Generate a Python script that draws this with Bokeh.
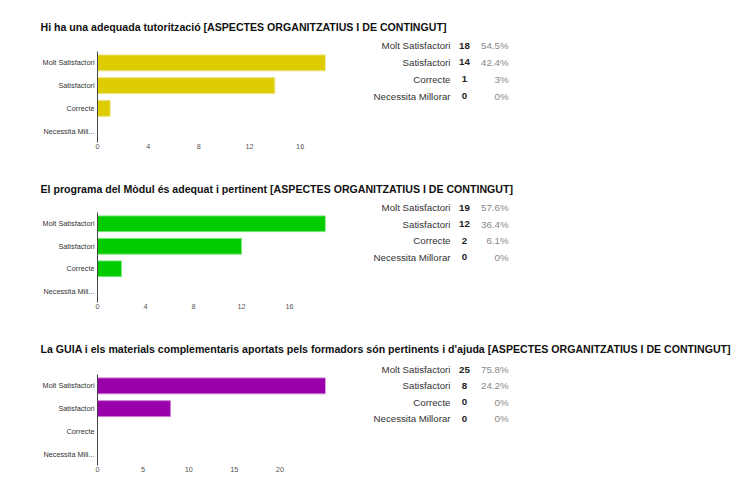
from bokeh.plotting import figure
from bokeh.models import Range1d, FixedTicker, ColumnDataSource
from bokeh.layouts import column, row
from bokeh.core.properties import value
from bokeh.embed import file_html
from bokeh.resources import INLINE

# ---------------- data ----------------
categories = ["Molt Satisfactori", "Satisfactori", "Correcte", "Necessita Millorar"]
category_ticklabels = ["Molt Satisfactori", "Satisfactori", "Correcte", "Necessita Mill..."]

title_1 = "Hi ha una adequada tutorització [ASPECTES ORGANITZATIUS I DE CONTINGUT]"
title_2 = "El programa del Mòdul és adequat i pertinent [ASPECTES ORGANITZATIUS I DE CONTINGUT]"
title_3 = ("La GUIA  i els materials complementaris aportats pels formadors són pertinents "
           "i d'ajuda [ASPECTES ORGANITZATIUS I DE CONTINGUT]")

counts_1 = [18, 14, 1, 0]
counts_2 = [19, 12, 2, 0]
counts_3 = [25, 8, 0, 0]

percents_1 = ["54.5%", "42.4%", "3%", "0%"]
percents_2 = ["57.6%", "36.4%", "6.1%", "0%"]
percents_3 = ["75.8%", "24.2%", "0%", "0%"]

ticks_1 = [0, 4, 8, 12, 16]
ticks_2 = [0, 4, 8, 12, 16]
ticks_3 = [0, 5, 10, 15, 20]

colors = ["#DDCC00", "#00CC00", "#9900AA"]
edge_colors = ["#EEE57F", "#7FE57F", "#CC7FD4"]

FONT = "Liberation Sans"
PAGE_W = 736
BAR_FIG_W = 340
TITLE_H = 36


def bare_figure(width, height, x_range, y_range):
    f = figure(width=width, height=height, x_range=x_range, y_range=y_range,
               output_backend="svg", toolbar_location=None, tools="",
               x_axis_location=None, y_axis_location=None,
               min_border_left=0, min_border_right=0, min_border_top=0, min_border_bottom=0)
    f.outline_line_color = None
    f.grid.visible = False
    return f


def make_block(title, counts, percents, ticks, color, edge,
               block_h, title_y, frame_top, bars_top, frame_bottom, table_y0, table_dy):
    """All layout positions are in pixels measured from the top of the block."""
    n = len(categories)
    row_h = block_h - TITLE_H
    frame_h = frame_bottom - frame_top
    bars_h = frame_bottom - bars_top

    # ---- title strip ----
    t = bare_figure(PAGE_W, TITLE_H, Range1d(0, PAGE_W), Range1d(TITLE_H, 0))
    t.text(x=[40], y=[title_y], text=[title], text_font=value(FONT),
           text_font_size="10.6px", text_font_style="bold", text_color="#111111",
           text_baseline="middle", text_align="left")

    # ---- bar chart (numeric y: top category at n-1) ----
    frame_left = 97
    frame_w = 228
    ypos = [n - 1 - i for i in range(n)]
    y_top = -0.5 + n * frame_h / bars_h
    p = figure(
        width=BAR_FIG_W, height=row_h,
        y_range=Range1d(-0.5, y_top),
        x_range=Range1d(0, max(counts)),
        output_backend="svg", toolbar_location=None, tools="",
        min_border_left=frame_left, min_border_right=BAR_FIG_W - frame_left - frame_w,
        min_border_top=frame_top - TITLE_H, min_border_bottom=block_h - frame_bottom,
    )
    p.hbar(y=ypos, left=0, right=counts, height=0.7,
           fill_color=color, line_color=edge, line_width=1)
    p.outline_line_color = None
    p.xgrid.visible = False
    p.ygrid.visible = False

    xa = p.xaxis[0]
    xa.ticker = FixedTicker(ticks=ticks)
    xa.axis_line_color = None
    xa.major_tick_line_color = None
    xa.minor_tick_line_color = None
    xa.major_tick_out = 0
    xa.major_tick_in = 0
    xa.major_label_standoff = 1
    xa.major_label_text_font = FONT
    xa.major_label_text_font_size = "7.3px"
    xa.major_label_text_color = "#555555"

    ya = p.yaxis[0]
    ya.ticker = FixedTicker(ticks=ypos)
    ya.major_label_overrides = {y: lab for y, lab in zip(ypos, category_ticklabels)}
    ya.bounds = (-0.5, n - 0.5)
    ya.axis_line_color = "#444444"
    ya.axis_line_width = 1
    ya.major_tick_line_color = None
    ya.minor_tick_line_color = None
    ya.major_tick_out = 0
    ya.major_tick_in = 0
    ya.major_label_standoff = 3
    ya.major_label_text_font = FONT
    ya.major_label_text_font_size = "7.3px"
    ya.major_label_text_color = "#333333"

    # ---- summary table (frame aligned with the bar chart frame) ----
    table_w = PAGE_W - BAR_FIG_W
    tb = figure(width=table_w, height=row_h,
                x_range=Range1d(0, table_w), y_range=Range1d(frame_h, 0),
                output_backend="svg", toolbar_location=None, tools="",
                x_axis_location=None, y_axis_location=None,
                min_border_left=0, min_border_right=0,
                min_border_top=frame_top - TITLE_H, min_border_bottom=block_h - frame_bottom)
    tb.outline_line_color = None
    tb.grid.visible = False
    src = ColumnDataSource(dict(
        label=categories,
        count=[str(c) for c in counts],
        pct=percents,
        y=[table_y0 - frame_top + table_dy * i for i in range(n)],
    ))
    common = dict(y="y", source=src, text_font=value(FONT), text_font_size="9.7px",
                  text_baseline="middle")
    tb.text(x=110, text="label", text_color="#333333", text_align="right", **common)
    tb.text(x=124, text="count", text_color="#222222", text_align="center",
            text_font_style="bold", **common)
    tb.text(x=168, text="pct", text_color="#888888", text_align="right", **common)

    return column(t, row(p, tb, spacing=0), spacing=0)


# block_h, title_y, frame_top, bars_top, frame_bottom, table_y0, table_dy
b1 = make_block(title_1, counts_1, percents_1, ticks_1, colors[0], edge_colors[0],
                162, 26, 38, 51, 142, 45, 16.9)
b2 = make_block(title_2, counts_2, percents_2, ticks_2, colors[1], edge_colors[1],
                161, 26, 38, 50, 140, 45, 16.5)
b3 = make_block(title_3, counts_3, percents_3, ticks_3, colors[2], edge_colors[2],
                154, 25, 38, 51, 142, 46, 16.4)

layout = column(b1, b2, b3, spacing=0)

open("out.html", "w").write(file_html(layout, INLINE))
